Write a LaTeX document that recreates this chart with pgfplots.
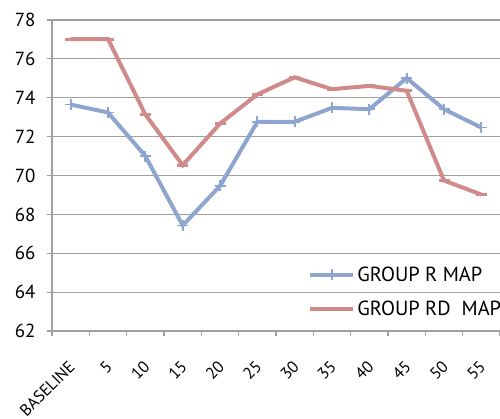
\documentclass[border=0pt]{standalone}
\usepackage{pgfplots}
\pgfplotsset{compat=1.18}
\usepackage{fontspec}
\setmainfont{PT Sans}
\definecolor{grpR}{RGB}{142,165,208}
\definecolor{grpRD}{RGB}{208,138,138}
\definecolor{gridgray}{RGB}{160,160,160}
\begin{document}
\begin{tikzpicture}
\begin{axis}[
  scale only axis,
  width=448bp, height=311bp,
  xmin=-0.5, xmax=11.5,
  ymin=62, ymax=78,
  ytick={62,64,...,78},
  xtick={0,...,11},
  xticklabels={BASELINE,5,10,15,20,25,30,35,40,45,50,55},
  minor xtick={-0.5,0.5,...,11.5},
  xtick style={draw=none},
  minor x tick style={draw=gridgray, line width=1.2bp},
  ytick style={draw=gridgray, line width=1.2bp},
  major tick length=5bp, minor tick length=5bp,
  tick align=outside,
  ymajorgrids,
  grid style={draw=gridgray, line width=1.2bp},
  axis x line*=bottom, axis y line*=left,
  axis line style={draw=gridgray, line width=1.5bp, -},
  /pgf/number format/assume math mode=true,
  tick label style={font=\fontsize{19}{22}\selectfont, black},
  yticklabel style={xshift=-8bp},
  xticklabel style={font=\fontsize{16.5}{20}\selectfont, inner sep=1bp,
    xshift=-3bp, yshift=-22bp, rotate=45, anchor=north east},
  legend style={at={(0.565,0.22)}, anchor=north west, draw=none, fill=none,
    font=\fontsize{20.5}{24}\selectfont, row sep=14bp,
    legend cell align=left},
  legend image code/.code={%
    \draw[#1] (0bp,0bp) -- (43bp,0bp);
    \draw[#1] plot coordinates {(21.5bp,0bp)};},
]
\addplot[grpR, line width=4bp, mark=+, mark size=5.5bp,
  mark options={line width=1.8bp}] coordinates {
  (0,73.65) (1,73.24) (2,71.0) (3,67.43) (4,69.46) (5,72.76)
  (6,72.76) (7,73.48) (8,73.41) (9,75.01) (10,73.41) (11,72.47)
};
\addlegendentry{GROUP R MAP}
\addplot[grpRD, line width=4bp, mark=-, mark size=5.5bp,
  mark options={line width=3bp}] coordinates {
  (0,77.02) (1,77.02) (2,73.14) (3,70.53) (4,72.67) (5,74.17)
  (6,75.05) (7,74.44) (8,74.61) (9,74.36) (10,69.74) (11,69.02)
};
\addlegendentry{GROUP RD\ \ MAP}
\end{axis}
\pgfresetboundingbox
\path (-52bp,-88bp) rectangle (448bp,331bp);
\end{tikzpicture}
\end{document}
